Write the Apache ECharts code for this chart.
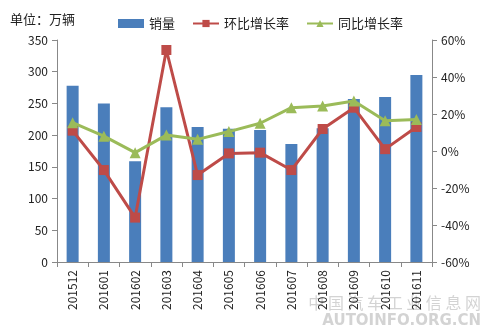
<!DOCTYPE html>
<html><head><meta charset="utf-8">
<script src="https://cdn.jsdelivr.net/npm/echarts@6/dist/echarts.min.js"></script>
<style>html,body{margin:0;padding:0;background:#fff}#c{width:483px;height:332px}</style>
</head><body><div id="c"></div>
<script>
const categories = ['201512','201601','201602','201603','201604','201605','201606','201607','201608','201609','201610','201611'];
const sales = [278, 250, 159, 244, 213, 210, 208, 186, 211, 257, 260, 295];
const momGrowth = [11, -10.3, -36, 54.6, -13, -1.3, -0.9, -10.3, 11.9, 23.4, 1, 13];
const yoyGrowth = [15.3, 8, -0.9, 8.6, 6.3, 10.5, 15, 23.4, 24.3, 27, 16.4, 17];
const leftTicks = [0, 350, 50];
const rightTicks = [-60, 60, 20];

const font = '"Noto Sans CJK SC", "Microsoft YaHei", sans-serif';
const chart = echarts.init(document.getElementById('c'));
chart.setOption({
  animation: false,
  textStyle: {fontFamily: font},
  grid: {left: 57, right: 51, top: 40, bottom: 70},
  legend: {
    top: 12, left: 113, itemGap: 17, itemWidth: 26, itemHeight: 9,
    textStyle: {fontSize: 13, color: '#222', fontFamily: font},
    data: [
      {name: '销量', icon: 'rect'},
      {name: '环比增长率'},
      {name: '同比增长率'}
    ]
  },
  graphic: [
    {type: 'text', left: 10, top: 13, style: {text: '单位：万辆', fontSize: 13, fill: '#222', fontFamily: font}},
    {type: 'text', right: 2, top: 295, style: {text: '中 国 汽 车 工 业 信 息 网', fontSize: 16, fill: 'rgba(175,175,175,0.55)', fontFamily: font}},
    {type: 'text', right: 2, top: 314, style: {text: 'AUTOINFO.ORG.CN', fontSize: 15, fontWeight: 'bold', fill: 'rgba(175,175,175,0.55)', fontFamily: 'DejaVu Sans'}}
  ],
  xAxis: {
    type: 'category', data: categories,
    axisLine: {lineStyle: {color: '#888'}},
    axisTick: {show: true, alignWithLabel: false, length: 5, lineStyle: {color: '#888'}},
    axisLabel: {rotate: 90, color: '#222', fontSize: 12, margin: 8, interval: 0}
  },
  yAxis: [
    {type: 'value', min: leftTicks[0], max: leftTicks[1], interval: leftTicks[2],
     axisLine: {show: true, lineStyle: {color: '#888'}},
     axisTick: {show: true, length: 5, lineStyle: {color: '#888'}},
     splitLine: {show: false},
     axisLabel: {color: '#222', fontSize: 12, margin: 9}},
    {type: 'value', min: rightTicks[0], max: rightTicks[1], interval: rightTicks[2],
     axisLine: {show: true, lineStyle: {color: '#888'}},
     axisTick: {show: true, length: 5, lineStyle: {color: '#888'}},
     splitLine: {show: false},
     axisLabel: {color: '#222', fontSize: 12, margin: 9, formatter: '{value}%'}}
  ],
  series: [
    {name: '销量', type: 'bar', data: sales, barWidth: 12, itemStyle: {color: '#4A7EBB'}},
    {name: '环比增长率', type: 'line', yAxisIndex: 1, data: momGrowth,
     symbol: 'rect', symbolSize: 10, lineStyle: {width: 3, color: '#BE4B48'}, itemStyle: {color: '#BE4B48'}, z: 3},
    {name: '同比增长率', type: 'line', yAxisIndex: 1, data: yoyGrowth,
     symbol: 'triangle', symbolSize: 11, lineStyle: {width: 3, color: '#9BBB59'}, itemStyle: {color: '#9BBB59'}, z: 4}
  ]
});
</script></body></html>
